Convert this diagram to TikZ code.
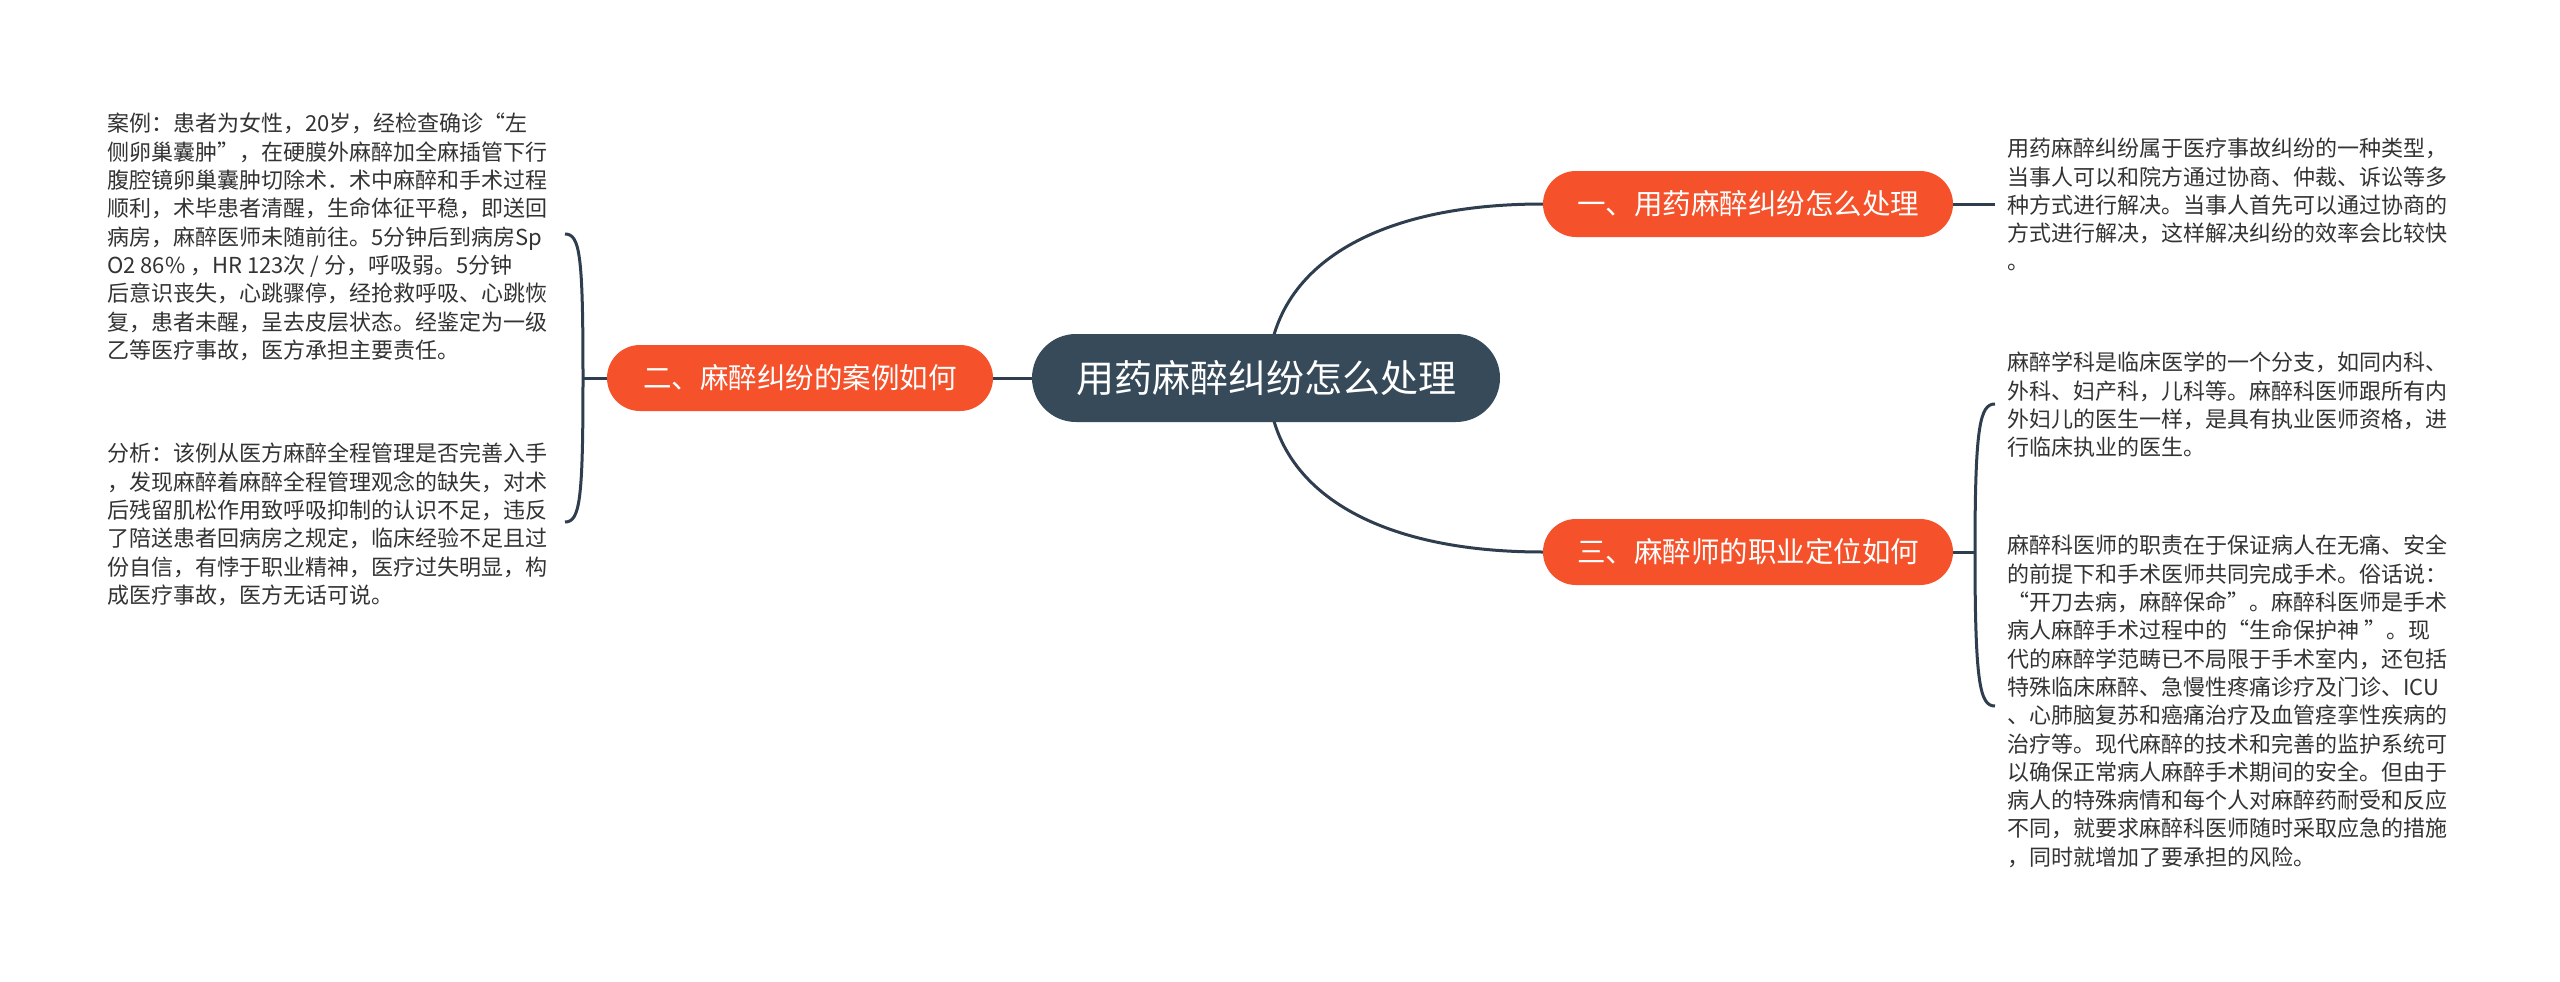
\documentclass[tikz,border=0pt]{standalone}
\usepackage{fontspec}
\setmainfont{Noto Sans CJK SC}
\usetikzlibrary{calc}
\definecolor{rootc}{HTML}{364A5A}
\definecolor{topicc}{HTML}{F5512A}
\definecolor{linec}{HTML}{2E3E4E}
\definecolor{notec}{HTML}{333333}
\pgfdeclarelayer{bg}
\pgfsetlayers{bg,main}
\begin{document}
\begin{tikzpicture}[x=1pt,y=-1pt,
  conn/.style={draw=linec, line width=3pt},
  rootbox/.style={fill=rootc, text=white, rounded corners=44pt, minimum width=468pt, minimum height=88pt, inner sep=0pt, font=\fontsize{38}{44}\selectfont},
  topicbox/.style={fill=topicc, text=white, rounded corners=33pt, minimum width=410pt, minimum height=66pt, inner sep=0pt, font=\fontsize{28.5}{34}\selectfont},
  note/.style={anchor=north west, align=left, inner sep=0pt, text=notec, font=\fontsize{22}{28.3}\selectfont}]
\useasboundingbox (0,0) rectangle (2560,982);

\node[rootbox] (root) at (1266,378) {用药麻醉纠纷怎么处理};
\node[topicbox] (t1) at (1748,204) {一、用药麻醉纠纷怎么处理};
\node[topicbox, minimum width=386pt] (t2) at (800,378) {二、麻醉纠纷的案例如何};
\node[topicbox] (t3) at (1748,552) {三、麻醉师的职业定位如何};

\node[note] (n1) at (107,113) {案例：患者为女性，20岁，经检查确诊“左\\%
侧卵巢囊肿”，在硬膜外麻醉加全麻插管下行\\%
腹腔镜卵巢囊肿切除术．术中麻醉和手术过程\\%
顺利，术毕患者清醒，生命体征平稳，即送回\\%
病房，麻醉医师未随前往。5分钟后到病房Sp\\%
O2 86\% ，HR 123次 / 分，呼吸弱。5分钟\\%
后意识丧失，心跳骤停，经抢救呼吸、心跳恢\\%
复，患者未醒，呈去皮层状态。经鉴定为一级\\%
乙等医疗事故，医方承担主要责任。};

\node[note] (n2) at (107,443) {分析：该例从医方麻醉全程管理是否完善入手\\%
，发现麻醉着麻醉全程管理观念的缺失，对术\\%
后残留肌松作用致呼吸抑制的认识不足，违反\\%
了陪送患者回病房之规定，临床经验不足且过\\%
份自信，有悖于职业精神，医疗过失明显，构\\%
成医疗事故，医方无话可说。};

\node[note] (n3) at (2007,138) {用药麻醉纠纷属于医疗事故纠纷的一种类型，\\%
当事人可以和院方通过协商、仲裁、诉讼等多\\%
种方式进行解决。当事人首先可以通过协商的\\%
方式进行解决，这样解决纠纷的效率会比较快\\%
。};

\node[note] (n4) at (2007,352) {麻醉学科是临床医学的一个分支，如同内科、\\%
外科、妇产科，儿科等。麻醉科医师跟所有内\\%
外妇儿的医生一样，是具有执业医师资格，进\\%
行临床执业的医生。};

\node[note] (n5) at (2007,535) {麻醉科医师的职责在于保证病人在无痛、安全\\%
的前提下和手术医师共同完成手术。俗话说：\\%
“开刀去病，麻醉保命”。麻醉科医师是手术\\%
病人麻醉手术过程中的“生命保护神 ”。现\\%
代的麻醉学范畴已不局限于手术室内，还包括\\%
特殊临床麻醉、急慢性疼痛诊疗及门诊、ICU\\%
、心肺脑复苏和癌痛治疗及血管痉挛性疾病的\\%
治疗等。现代麻醉的技术和完善的监护系统可\\%
以确保正常病人麻醉手术期间的安全。但由于\\%
病人的特殊病情和每个人对麻醉药耐受和反应\\%
不同，就要求麻醉科医师随时采取应急的措施\\%
，同时就增加了要承担的风险。};

\coordinate (jl) at (583,378);
\coordinate (e1) at (565,234);
\coordinate (e2) at (565,522);
\coordinate (j1) at (1995,204);
\coordinate (jr) at (1975,552);
\coordinate (e4) at (1995,404);
\coordinate (e5) at (1995,706);

\begin{pgfonlayer}{bg}
\fill[white] (0,0) rectangle (2560,982);
\draw[conn] ($(root.center)+(2,0)$) .. controls ($(root.center)+(2,-108)$) and ($(t1.west)+(-173,0)$) .. (t1.west);
\draw[conn] ($(root.center)+(2,0)$) .. controls ($(root.center)+(2,108)$) and ($(t3.west)+(-173,0)$) .. (t3.west);
\draw[conn] (root.west) -- (t2.east);
\draw[conn] (t2.west) -- (jl);
\draw[conn] (jl) .. controls (583,255) and (580,234) .. (e1);
\draw[conn] (jl) .. controls (583,500) and (580,522) .. (e2);
\draw[conn] (t1.east) -- (j1);
\draw[conn] (t3.east) -- (jr);
\draw[conn] (jr) .. controls (1975,425) and (1980,404) .. (e4);
\draw[conn] (jr) .. controls (1975,685) and (1980,706) .. (e5);
\end{pgfonlayer}
\end{tikzpicture}
\end{document}
